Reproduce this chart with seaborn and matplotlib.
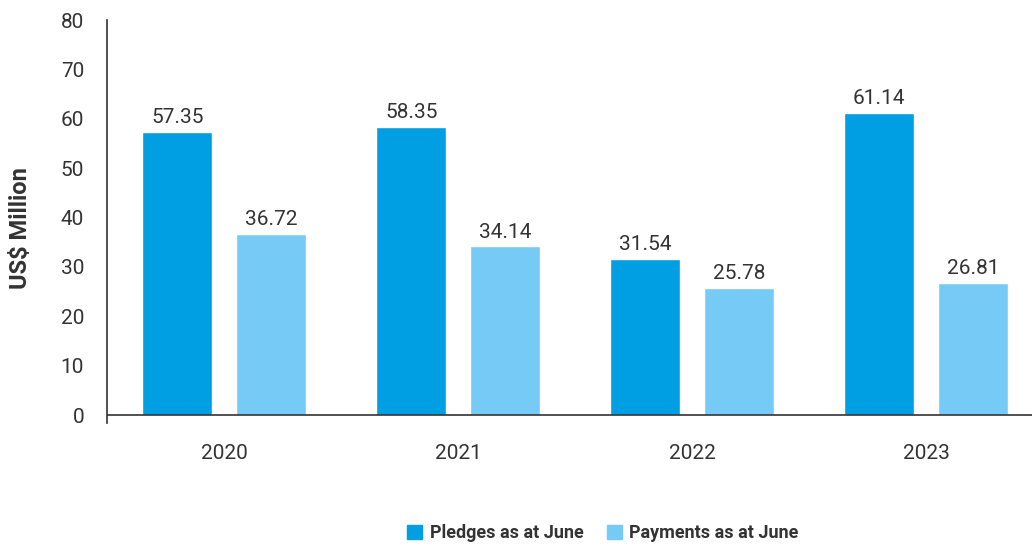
import matplotlib
matplotlib.use("Agg")
import matplotlib.pyplot as plt
import seaborn as sns
import pandas as pd

years = ["2020", "2021", "2022", "2023"]
pledges = [57.35, 58.35, 31.54, 61.14]
payments = [36.72, 34.14, 25.78, 26.81]
series_names = ["Pledges as at June", "Payments as at June"]
y_ticks = [0, 10, 20, 30, 40, 50, 60, 70, 80]

df = pd.DataFrame({
    "Year": years * 2,
    "Value": pledges + payments,
    "Series": [series_names[0]] * len(years) + [series_names[1]] * len(years),
})

sns.set_theme(style="white")
plt.rcParams["font.family"] = ["Roboto", "DejaVu Sans"]
text_color = "#333333"

fig = plt.figure(figsize=(10.32, 5.48), dpi=100)
ax = fig.add_axes([107 / 1032, 1 - 423 / 548, 1 - 107 / 1032, (423 - 20) / 548])

palette = {series_names[0]: "#009FE3", series_names[1]: "#75CBF5"}
sns.barplot(data=df, x="Year", y="Value", hue="Series", palette=palette,
            width=0.8, gap=0.25, saturation=1, ax=ax, legend=False)

for cont in ax.containers:
    ax.bar_label(cont, fmt="%.2f", padding=3.5, fontsize=15, color=text_color)

ax.set_xlim(-0.5, 3.453)
ax.set_ylim(-1.6, 80)
ax.set_yticks(y_ticks)
ax.axhline(0, color="#333333", lw=1.2, zorder=3)

for side in ["top", "right", "bottom"]:
    ax.spines[side].set_visible(False)
ax.spines["left"].set_color("#333333")
ax.spines["left"].set_linewidth(1.2)

ax.tick_params(axis="y", length=0, pad=16.5, labelsize=15, labelcolor=text_color)
ax.tick_params(axis="x", length=0, pad=15, labelsize=15, labelcolor=text_color)
ax.set_xlabel("")
ax.set_ylabel("US$ Million", fontsize=17, fontweight="bold", color=text_color)
ax.yaxis.set_label_coords(-0.081, 0.484)

handles = [plt.Rectangle((0, 0), 1, 1, color=palette[s]) for s in series_names]
fig.legend(handles, series_names, loc="center", bbox_to_anchor=(603 / 1032, 1 - 533 / 548),
           ncol=2, frameon=False, handlelength=0.85, handleheight=0.85, handletextpad=0.4,
           columnspacing=1.3, prop={"weight": "bold", "size": 13}, labelcolor=text_color)

fig.savefig("out.png", dpi=100)
